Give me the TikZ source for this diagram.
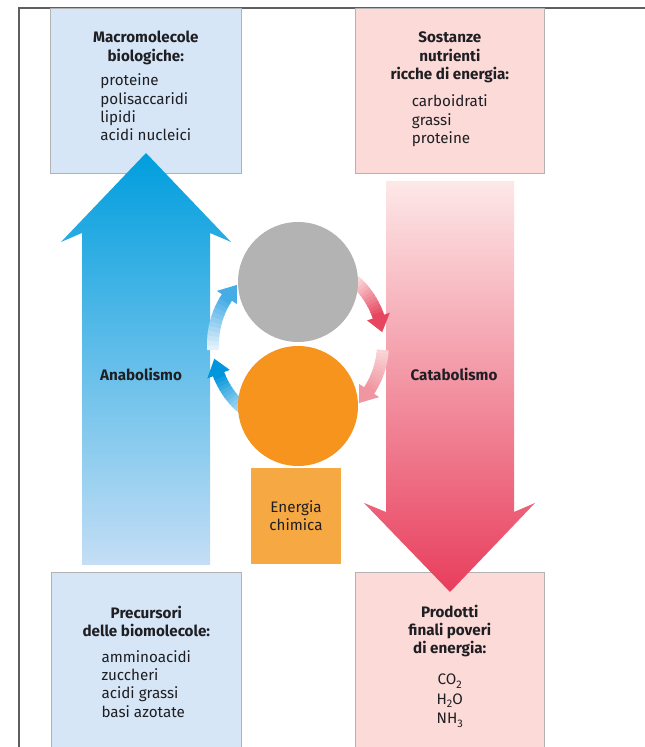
\documentclass[tikz,border=0pt]{standalone}
\usepackage{fontspec}
\setmainfont{Fira Sans}
\usetikzlibrary{positioning,calc}

\definecolor{framegrey}{RGB}{95,95,95}
\definecolor{panelblue}{RGB}{214,230,246}
\definecolor{panelred}{RGB}{251,218,216}
\definecolor{textdark}{RGB}{30,30,35}
\definecolor{anablue}{RGB}{0,158,222}
\definecolor{anabluelight}{RGB}{196,222,245}
\definecolor{catared}{RGB}{232,62,92}
\definecolor{catapink}{RGB}{253,232,232}
\definecolor{energyorange}{RGB}{246,168,66}
\definecolor{circleorange}{RGB}{247,148,30}
\definecolor{circlegrey}{RGB}{179,179,179}
\definecolor{bluetailA}{RGB}{205,228,246}
\definecolor{blueheadA}{RGB}{0,150,220}
\definecolor{bluetailB}{RGB}{240,247,253}
\definecolor{blueheadB}{RGB}{70,172,230}
\definecolor{redtailA}{RGB}{252,228,228}
\definecolor{redheadA}{RGB}{230,70,95}
\definecolor{redtailB}{RGB}{250,218,220}
\definecolor{redheadB}{RGB}{240,150,160}

\tikzset{
  frameline/.style={draw=framegrey, line width=1.3pt},
  panel/.style={draw=black!30, line width=0.6pt, inner sep=0pt, anchor=north west},
  bluepanel/.style={panel, fill=panelblue},
  redpanel/.style={panel, fill=panelred},
  paneltext/.style={align=center, inner sep=0pt, text=textdark,
    font=\fontsize{15.2}{18.3}\selectfont},
  phase/.style={inner sep=0pt, anchor=base, text=textdark,
    font=\fontsize{15.2}{18.3}\selectfont\bfseries},
  disc/.style={circle, minimum size=120pt, inner sep=0pt},
  energybox/.style={fill=energyorange, minimum width=90pt, minimum height=96pt,
    inner sep=0pt, align=center, text=textdark,
    font=\fontsize{15.2}{18.3}\selectfont},
  ringband/.style={line width=12pt}
}

% subscript digit for the formulas
\newcommand{\lowdigit}[1]{\raisebox{-3.5pt}{\fontsize{11}{11}\selectfont #1}}

% curved arrow round the two discs: tail colour, head colour, start, end angle
\newcommand{\cyclearrow}[4]{%
  \pgfmathsetmacro\tipa{#4+10.8}
  \foreach \i in {0,...,11}{
    \pgfmathsetmacro\sa{(#3)+(\tipa-(#3))*\i/12}
    \pgfmathsetmacro\ea{(#3)+(\tipa-(#3))*(\i+1)/12-0.6}
    \pgfmathtruncatemacro\mix{100*(\i+1)/12}
    \draw[ringband, color=#2!\mix!#1] ($(ring)+(\sa:85pt)$)
      arc[start angle=\sa, end angle=\ea, radius=85pt];
  }
  \fill[#2] ($(ring)+(\tipa:73pt)$) -- ($(ring)+(#4:85pt)$)
    -- ($(ring)+(\tipa:97pt)$) -- cycle;
}

\begin{document}
\begin{tikzpicture}[x=1pt,y=1pt]
\useasboundingbox (0,0) rectangle (645,747);

% Frame
\draw[frameline] (19,-2) -- (19,739) -- (646,739);

% Panels
\node[bluepanel, minimum width=191pt, minimum height=165pt] (macro) at (50,738.5) {};
\node[redpanel, minimum width=189pt, minimum height=165pt] (nutrienti) at (355,738.5) {};
\node[bluepanel, minimum width=190pt, minimum height=178pt] (precursori) at (51,175) {};
\node[redpanel, minimum width=189pt, minimum height=178pt] (prodotti) at (355,175) {};

% Panel texts
\node[paneltext, below=22.5pt of macro.north] (macrotxt)
  {\textbf{Macromolecole}\\\textbf{biologiche:}\\[6.5pt]%
   \begin{tabular}[t]{@{}l@{}}proteine\\polisaccaridi\\lipidi\\acidi nucleici\end{tabular}};
\node[paneltext, below=23.5pt of nutrienti.north] (nutrientitxt)
  {\textbf{Sostanze}\\\textbf{nutrienti}\\\textbf{ricche di energia:}\\[9pt]%
   \begin{tabular}[t]{@{}l@{}}carboidrati\\grassi\\proteine\end{tabular}};
\node[paneltext, below=33.5pt of precursori.north] (precursoritxt)
  {\textbf{Precursori}\\\textbf{delle biomolecole:}\\[7.5pt]%
   \begin{tabular}[t]{@{}l@{}}amminoacidi\\zuccheri\\acidi grassi\\basi azotate\end{tabular}};
\node[paneltext, below=32.5pt of prodotti.north] (prodottitxt)
  {\textbf{Prodotti}\\\textbf{finali poveri}\\\textbf{di energia:}\\[13pt]%
   CO\lowdigit{2}\\[1pt]H\lowdigit{2}O\\[1pt]NH\lowdigit{3}};

% Anabolism arrow (up) and catabolism arrow (down)
\shade[top color=anablue, bottom color=anabluelight]
  (82,182) -- (82,514) -- (61,505) -- (146,594) -- (231,505) -- (210,514) -- (210,182) -- cycle;
\shade[top color=catapink, bottom color=catared]
  (386,566) -- (386,235) -- (364,244) -- (450,155) -- (535,244) -- (514,235) -- (514,566) -- cycle;

\node[phase] (ana) at (141,366) {Anabolismo};
\node[phase] (cata) at (454,366) {Catabolismo};

% Energy box and discs
\node[energybox] (energia) at (296,231) {Energia\\chimica};
\coordinate (ring) at (298,403);

\cyclearrow{bluetailA}{blueheadA}{232}{190}
\cyclearrow{bluetailB}{blueheadB}{184}{136}
\cyclearrow{redtailA}{redheadA}{48}{8}
\cyclearrow{redtailB}{redheadB}{-4}{-44}

\node[disc, fill=circlegrey] (grey) at (298,465) {};
\node[disc, fill=circleorange] (orange) at (298,341) {};

\end{tikzpicture}
\end{document}
